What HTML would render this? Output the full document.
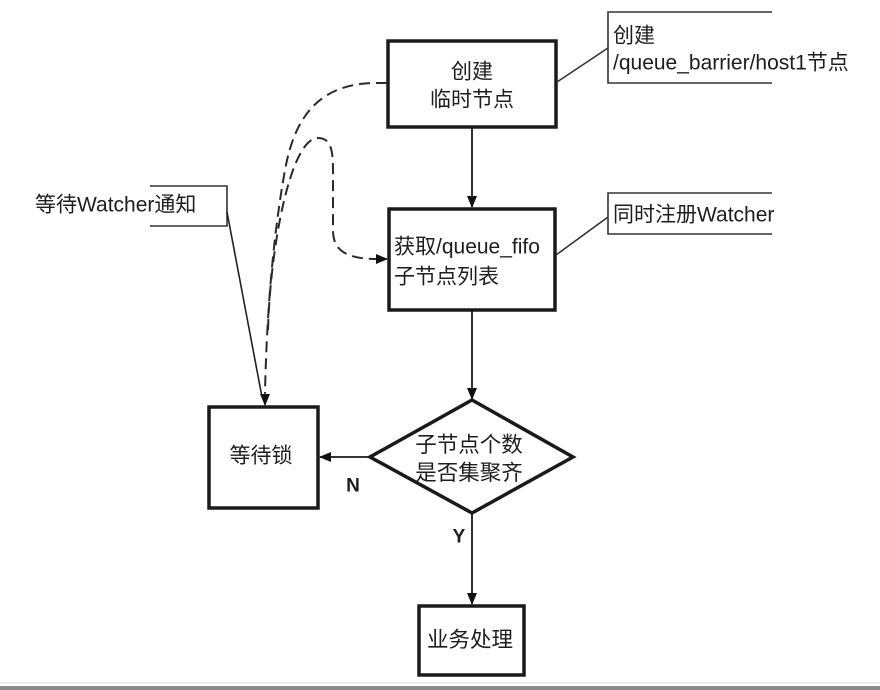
<!DOCTYPE html>
<html>
<head>
<meta charset="utf-8">
<style>
html,body{margin:0;padding:0;background:#fff;}
svg{display:block;}
text{font-family:"Liberation Sans","Noto Sans CJK SC",sans-serif;fill:#1e1e1e;}
</style>
</head>
<body>
<svg width="880" height="690" viewBox="0 0 880 690" xmlns="http://www.w3.org/2000/svg">
<defs>
<marker id="ah" markerWidth="12" markerHeight="10" refX="11" refY="5" orient="auto" markerUnits="userSpaceOnUse">
<path d="M0,0 L12,5 L0,10 Z" fill="#111"/>
</marker>
</defs>
<rect x="0" y="0" width="880" height="690" fill="#fff"/>
<!-- bottom border -->
<rect x="0" y="682" width="880" height="2" fill="#eeeeee"/>
<rect x="0" y="686" width="880" height="4" fill="#8a8a8a"/>

<!-- Boxes -->
<rect x="388" y="41" width="168" height="86" fill="#fff" stroke="#1a1a1a" stroke-width="3.5"/>
<rect x="389" y="209" width="166" height="101" fill="#fff" stroke="#1a1a1a" stroke-width="3.5"/>
<rect x="209" y="407" width="109" height="101" fill="#fff" stroke="#1a1a1a" stroke-width="3.5"/>
<rect x="419" y="606" width="105" height="69" fill="#fff" stroke="#1a1a1a" stroke-width="3.5"/>
<polygon points="472,400 573,457 472,513 370,457" fill="#fff" stroke="#1a1a1a" stroke-width="3.5"/>

<!-- Solid arrows -->
<line x1="472" y1="128" x2="472" y2="207" stroke="#1a1a1a" stroke-width="1.8" marker-end="url(#ah)"/>
<line x1="472" y1="311" x2="472" y2="399" stroke="#1a1a1a" stroke-width="1.8" marker-end="url(#ah)"/>
<line x1="369" y1="457" x2="320" y2="457" stroke="#1a1a1a" stroke-width="1.8" marker-end="url(#ah)"/>
<line x1="472" y1="514" x2="472" y2="604" stroke="#1a1a1a" stroke-width="1.8" marker-end="url(#ah)"/>

<!-- Dashed curves -->
<path d="M387,83 L372,83 C320,85 295,115 285,170 C275,225 267,300 265,393" fill="none" stroke="#2a2a2a" stroke-width="2" stroke-dasharray="11,6"/>
<line x1="265" y1="392" x2="265" y2="405" stroke="#1a1a1a" stroke-width="1.5" marker-end="url(#ah)"/>
<path d="M268,330 C270,250 290,138 318,138 C333,138 333,155 333,175 L333,230 C333,250 345,259 378,259" fill="none" stroke="#2a2a2a" stroke-width="2" stroke-dasharray="11,6"/>
<line x1="376" y1="259" x2="387" y2="259" stroke="#1a1a1a" stroke-width="1.5" marker-end="url(#ah)"/>

<!-- Callout 1 -->
<polyline points="772,12 608,12 608,83 772,83" fill="none" stroke="#333" stroke-width="1.6"/>
<line x1="557" y1="82" x2="608" y2="48" stroke="#333" stroke-width="1.6"/>
<text x="613" y="36" font-size="21" dominant-baseline="central">创建</text>
<text x="613" y="63" font-size="21" dominant-baseline="central">/queue_barrier/host1节点</text>

<!-- Callout 2 -->
<polyline points="772,193 608,193 608,234 772,234" fill="none" stroke="#333" stroke-width="1.6"/>
<line x1="556" y1="255" x2="608" y2="217" stroke="#333" stroke-width="1.6"/>
<text x="613" y="215" font-size="21" dominant-baseline="central">同时注册Watcher</text>

<!-- Left callout -->
<polyline points="150,186 227,186 227,226 150,226" fill="none" stroke="#333" stroke-width="1.6"/>
<line x1="227" y1="212" x2="262" y2="397" stroke="#222" stroke-width="1.6"/>
<text x="35" y="205" font-size="21" dominant-baseline="central">等待Watcher通知</text>

<!-- Box texts -->
<text x="472" y="72" font-size="21" text-anchor="middle" dominant-baseline="central">创建</text>
<text x="472" y="100" font-size="21" text-anchor="middle" dominant-baseline="central">临时节点</text>
<text x="394" y="247" font-size="21" dominant-baseline="central">获取/queue_fifo</text>
<text x="394" y="277" font-size="21" dominant-baseline="central">子节点列表</text>
<text x="261" y="456" font-size="21" text-anchor="middle" dominant-baseline="central">等待锁</text>
<text x="469" y="445" font-size="21.5" text-anchor="middle" dominant-baseline="central">子节点个数</text>
<text x="469" y="473" font-size="21.5" text-anchor="middle" dominant-baseline="central">是否集聚齐</text>
<text x="470" y="640" font-size="21.5" text-anchor="middle" dominant-baseline="central">业务处理</text>

<!-- Labels -->
<text x="353" y="486" font-size="19" font-weight="bold" text-anchor="middle" dominant-baseline="central">N</text>
<text x="459" y="537" font-size="19" font-weight="bold" text-anchor="middle" dominant-baseline="central">Y</text>
</svg>
</body>
</html>
